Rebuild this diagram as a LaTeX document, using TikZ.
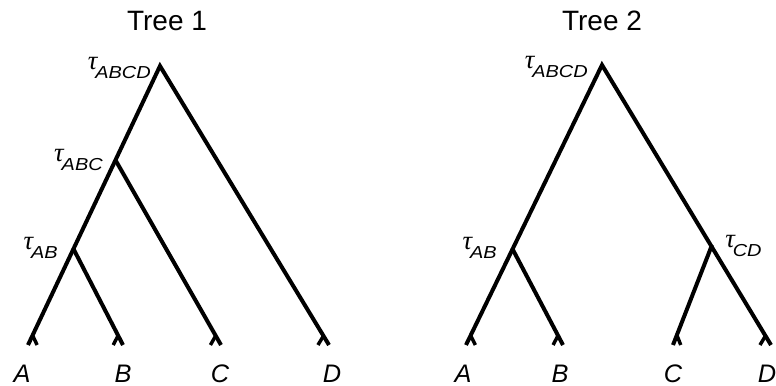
\documentclass[tikz,border=0pt]{standalone}
\usepackage{fontspec}
\setmainfont{Liberation Sans}
\newfontfamily\taufont{Liberation Serif}
\usetikzlibrary{calc,positioning}
\newcommand{\splittime}[1]{{\taufont\fontsize{20}{20}\selectfont\itshape τ}\kern-1.5pt\raisebox{-7pt}{\scalebox{1.15}[1]{\fontsize{13}{13}\selectfont\itshape #1}}}
\tikzset{
  branch/.style={line width=3pt,line join=miter},
  % small inverted V at the end of a leaf branch
  foot/.style={line width=2.6pt,
    to path={let \p1=(\tikztotarget), \p2=($(\tikztotarget)!8pt!(\tikztostart)$) in
      (\p2) -- ({2*\x2-\x1},\y1)}},
  tname/.style={inner sep=0pt,anchor=base east},
  taxon/.style={inner sep=0pt,anchor=base,font=\fontsize{19}{19}\selectfont\itshape},
  title/.style={inner sep=0pt,anchor=base,font=\fontsize{21}{21}\selectfont}
}
\begin{document}
\begin{tikzpicture}[x=0.75pt,y=-0.75pt]
    \useasboundingbox (0,0) rectangle (776,386);
    %tree 1
    \node[title] (t1) at (167,30) {Tree 1};
    \coordinate (r1) at (160,66);
    \coordinate (abc1) at (116,161);
    \coordinate (ab1) at (73,248);
    \coordinate (a1) at (28,345);
    \coordinate (b1) at (123,345);
    \coordinate (c1) at (221,345);
    \coordinate (d1) at (329,345);
    \node[tname] (lr1) at (151,69) {\splittime{ABCD}};
    \node[tname] (labc1) at (103,161) {\splittime{ABC}};
    \node[tname] (lab1) at (58,249) {\splittime{AB}};
    \node[taxon] (A1) at (22,382) {A};
    \node[taxon] (B1) at (123,382) {B};
    \node[taxon] (C1) at (220,382) {C};
    \node[taxon] (D1) at (332,382) {D};
    %branches
    \draw[branch] (a1) -- (r1) -- (d1);
    \path[draw,branch]
     (abc1) edge (c1)
     (ab1) edge (b1);
    \path[draw,foot]
     (r1) edge (a1)
     (ab1) edge (b1)
     (abc1) edge (c1)
     (r1) edge (d1);
    %tree 2
    \node[title] (t2) at (602,30) {Tree 2};
    \coordinate (r2) at (602,65);
    \coordinate (ab2) at (512,248);
    \coordinate (cd2) at (712,245);
    \coordinate (a2) at (466,345);
    \coordinate (b2) at (563,345);
    \coordinate (c2) at (673,345);
    \coordinate (d2) at (771,345);
    \node[tname] (lr2) at (588,68) {\splittime{ABCD}};
    \node[tname] (lab2) at (497,249) {\splittime{AB}};
    \node[tname,anchor=base west] (lcd2) at (725,247) {\splittime{CD}};
    \node[taxon] (A2) at (463,382) {A};
    \node[taxon] (B2) at (560,382) {B};
    \node[taxon] (C2) at (673,382) {C};
    \node[taxon] (D2) at (767,382) {D};
    %branches
    \draw[branch] (a2) -- (r2) -- (d2);
    \path[draw,branch]
     (ab2) edge (b2)
     (cd2) edge (c2);
    \path[draw,foot]
     (r2) edge (a2)
     (ab2) edge (b2)
     (cd2) edge (c2)
     (r2) edge (d2);
\end{tikzpicture}
\end{document}
